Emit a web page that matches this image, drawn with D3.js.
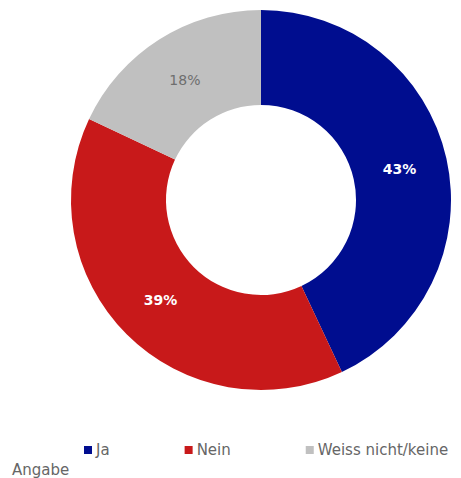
<!DOCTYPE html>
<html>
<head>
<meta charset="utf-8">
<script src="https://cdn.jsdelivr.net/npm/d3@7"></script>
<style>
  body { margin: 0; background: #fff; }
  svg { display: block; }
</style>
</head>
<body>
<div id="chart"></div>
<script>
  // chart values
  const categories = ['Ja', 'Nein', 'Weiss nicht/keine Angabe'];
  const values = [43, 39, 18];
  const colors = ['#000d8f', '#c8191a', '#c0c0c0'];
  const labelColors = ['#ffffff', '#ffffff', '#6e6e6e'];
  const labelWeights = ['bold', 'bold', 'normal'];

  const width = 461;
  const height = 478;
  const cx = 261;
  const cy = 200;
  const outerR = 190;
  const innerR = 95;

  let svg = d3.select('#chart')
    .append('svg')
    .attr('width', width)
    .attr('height', height);

  let pie = d3.pie()
    .sort(null)
    .value(function(d) { return d; });

  let arc = d3.arc()
    .innerRadius(innerR)
    .outerRadius(outerR);

  let labelArc = d3.arc()
    .innerRadius(142)
    .outerRadius(142);

  let arcs = pie(values);

  let g = svg.append('g')
    .attr('transform', `translate(${cx}, ${cy})`);

  g.selectAll('path')
    .data(arcs)
    .enter()
    .append('path')
    .attr('d', arc)
    .attr('fill', function(d, i) { return colors[i]; });

  g.selectAll('text')
    .data(arcs)
    .enter()
    .append('text')
    .attr('transform', function(d) { return `translate(${labelArc.centroid(d)})`; })
    .attr('text-anchor', 'middle')
    .attr('dy', '0.35em')
    .attr('font-family', 'DejaVu Sans, sans-serif')
    .attr('font-size', 14)
    .attr('font-weight', function(d, i) { return labelWeights[i]; })
    .attr('fill', function(d, i) { return labelColors[i]; })
    .text(function(d) { return d.data + '%'; });

  // legend - flows left to right, last label wraps
  let legend = svg.append('g')
    .attr('font-family', 'DejaVu Sans, sans-serif')
    .attr('font-size', 15)
    .attr('fill', '#666');

  let lx = 84;
  let ly = 455;
  categories.forEach(function(name, i) {
    legend.append('rect')
      .attr('x', lx)
      .attr('y', ly - 9)
      .attr('width', 8)
      .attr('height', 8)
      .attr('fill', colors[i]);

    let words = name.split(' ');
    let first = name;
    let rest = '';
    if (words.length > 2) {
      first = words.slice(0, 2).join(' ');
      rest = words.slice(2).join(' ');
    }
    let t = legend.append('text')
      .attr('x', lx + 12)
      .attr('y', ly)
      .text(first);
    if (rest) {
      legend.append('text')
        .attr('x', 12)
        .attr('y', ly + 20)
        .text(rest);
    }
    lx = lx + 12 + t.node().getComputedTextLength() + 75;
  });
</script>
</body>
</html>
